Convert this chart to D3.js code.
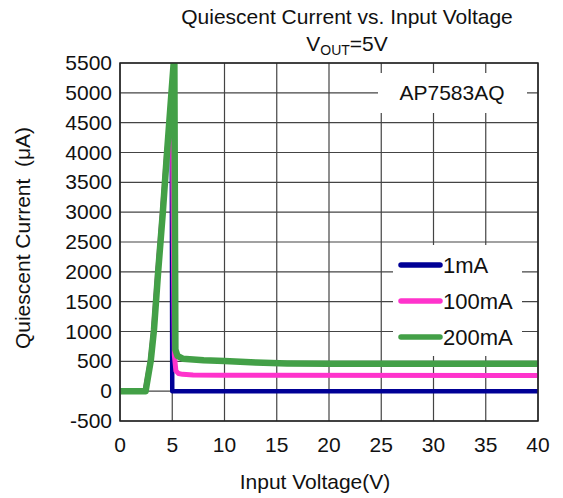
<!DOCTYPE html>
<html><head><meta charset="utf-8">
<script src="https://cdn.jsdelivr.net/npm/d3@7"></script>
<style>body{margin:0;background:#fff}svg{font-family:"Liberation Sans",Arial,sans-serif}</style>
</head><body><svg id="c" width="563" height="498"></svg>
<script>
const xTicks = [0,5,10,15,20,25,30,35,40];
const yTicks = [-500,0,500,1000,1500,2000,2500,3000,3500,4000,4500,5000,5500];
const seriesNames = ["1mA","100mA","200mA"];
const seriesColors = ["#000096","#ff33cc","#43a047"];
const vin1 = [0,2.4,2.9,3.2,3.6,4.05,4.45,4.95,5.0,40];
const iq1 = [0,0,500,1000,1980,2980,3950,4450,0,0];
const vin100 = [0,2.4,2.9,3.2,3.6,4.05,4.45,5.0,5.2,5.35,5.6,6,7,10,40];
const iq100 = [0,0,510,1010,1990,2990,3970,4800,600,340,295,282,272,268,262];
const vin200 = [0,2.45,2.95,3.25,3.65,4.1,4.5,5.2,5.3,5.5,6,8,10,13,16,20,40];
const iq200 = [0,0,520,1025,2000,3000,4000,5650,700,590,545,520,505,480,465,460,458];

const svg = d3.select("#c");
const L=120,R=538,T=63,B=421;
const x = d3.scaleLinear().domain([0,40]).range([L,R]);
const y = d3.scaleLinear().domain([-500,5500]).range([B,T]);
const FS = 21;

svg.append("defs").append("clipPath").attr("id","clip").append("rect")
  .attr("x",L).attr("y",T).attr("width",R-L).attr("height",B-T);

const g = svg.append("g");
g.selectAll("line.gx").data(xTicks).join("line")
  .attr("x1",d=>x(d)).attr("x2",d=>x(d)).attr("y1",T).attr("y2",B)
  .attr("stroke","#444").attr("stroke-width",1.2);
g.selectAll("line.gy").data(yTicks).join("line")
  .attr("y1",d=>y(d)).attr("y2",d=>y(d)).attr("x1",L).attr("x2",R)
  .attr("stroke","#444").attr("stroke-width",1.2);

svg.append("rect").attr("x",378).attr("y",73).attr("width",149).attr("height",40).attr("fill","#fff");
svg.append("text").attr("x",452).attr("y",100).attr("text-anchor","middle")
  .attr("font-size",FS).attr("fill","#111").text("AP7583AQ");

const data = [
  {name:seriesNames[0], color:seriesColors[0], w:4.5, pts:vin1.map((v,i)=>[v,iq1[i]])},
  {name:seriesNames[1], color:seriesColors[1], w:5, pts:vin100.map((v,i)=>[v,iq100[i]])},
  {name:seriesNames[2], color:seriesColors[2], w:6.5, pts:vin200.map((v,i)=>[v,iq200[i]])}
];
const line = d3.line().x(d=>x(d[0])).y(d=>y(d[1])).curve(d3.curveLinear);
svg.append("g").attr("clip-path","url(#clip)").selectAll("path").data(data).join("path")
  .attr("d",d=>line(d.pts)).attr("fill","none").attr("stroke",d=>d.color)
  .attr("stroke-width",d=>d.w).attr("stroke-linejoin","round").attr("stroke-linecap","butt");

svg.append("rect").attr("x",L).attr("y",T).attr("width",R-L).attr("height",B-T)
  .attr("fill","none").attr("stroke","#222").attr("stroke-width",1.5);

svg.append("rect").attr("x",393).attr("y",245).attr("width",129).attr("height",111).attr("fill","#fff");
const lg = svg.append("g").selectAll("g").data(data).join("g")
  .attr("transform",(d,i)=>`translate(0,${265+i*36})`);
lg.append("line").attr("x1",401).attr("x2",440).attr("y1",0).attr("y2",0)
  .attr("stroke",d=>d.color).attr("stroke-width",5.5).attr("stroke-linecap","round");
lg.append("text").attr("x",443).attr("y",8).attr("font-size",22).attr("fill","#111").text(d=>d.name);

svg.selectAll("text.yt").data(yTicks).join("text").attr("class","yt")
  .attr("x",112).attr("y",d=>y(d)+7).attr("text-anchor","end")
  .attr("font-size",FS).attr("fill","#111").text(d=>d);
svg.selectAll("text.xt").data(xTicks).join("text").attr("class","xt")
  .attr("x",d=>x(d)).attr("y",452).attr("text-anchor","middle")
  .attr("font-size",FS).attr("fill","#111").text(d=>d);

svg.append("text").attr("x",315).attr("y",489).attr("text-anchor","middle")
  .attr("font-size",FS).attr("fill","#111").text("Input Voltage(V)");
svg.append("text").attr("transform","translate(30,238) rotate(-90)").attr("text-anchor","middle")
  .attr("font-size",FS).attr("fill","#111").style("white-space","pre").text("Quiescent Current  (μA)");

svg.append("text").attr("x",347).attr("y",24).attr("text-anchor","middle")
  .attr("font-size",21).attr("fill","#111").text("Quiescent Current vs. Input Voltage");
const t2 = svg.append("text").attr("x",347).attr("y",51).attr("text-anchor","middle")
  .attr("font-size",21).attr("fill","#111");
t2.append("tspan").text("V");
t2.append("tspan").attr("font-size",14).attr("dy",4).text("OUT");
t2.append("tspan").attr("dy",-4).text("=5V");
</script></body></html>
